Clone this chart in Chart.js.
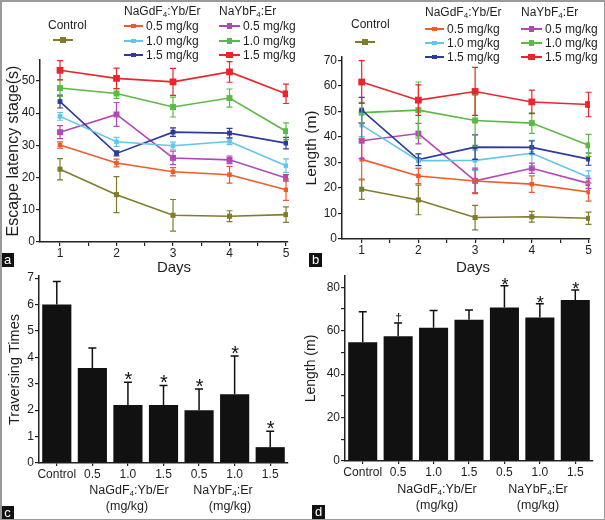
<!DOCTYPE html>
<html lang="en">
<head>
<meta charset="UTF-8">
<title>Escape latency, swimming length and platform crossings</title>
<style>
  body { margin: 0; background: #fff; }
  #fig { position: relative; width: 605px; height: 520px; overflow: hidden; background: #fff;
         font-family: "Liberation Sans", Arial, sans-serif; color: #1e1e1e; }
  #fig canvas { position: absolute; }
  .txt { position: absolute; white-space: nowrap; font-size: 12.5px; line-height: 14px; }
  .head { position: absolute; white-space: nowrap; font-size: 12px; line-height: 14px; }
  .mid { transform: translateX(-50%); }
  .days { position: absolute; font-size: 15px; line-height: 18px; white-space: nowrap; transform: translateX(-50%); }
  .leg { position: absolute; display: flex; align-items: center; font-size: 12px; line-height: 14px; white-space: nowrap; }
  .sw { position: relative; height: 14px; margin-right: 3px; }
  .sw::before { content: ""; position: absolute; left: 0; right: 0; top: 6.2px; height: 1.6px; background: var(--c); }
  .sw::after { content: ""; position: absolute; left: 50%; top: 7px; width: var(--s); height: var(--s);
               margin: calc(var(--s) / -2) 0 0 calc(var(--s) / -2); background: var(--c); }
  .tag { position: absolute; background: #111; color: #fff; font-size: 13px; line-height: 14px; width: 13px; text-align: center; }
  sub { font-size: 8px; vertical-align: -2px; line-height: 0; }
  #frame { position: absolute; left: 0; top: 0; right: 0; bottom: 0; border: 2px solid #9a9a9a;
           border-right-width: 1px; border-bottom-width: 1px; pointer-events: none; }
</style>
</head>
<body>
<div id="fig">
  <canvas id="chartA" width="300" height="262" style="left:0;top:0"></canvas>
  <canvas id="chartB" width="305" height="262" style="left:300px;top:0"></canvas>
  <canvas id="chartC" width="300" height="258" style="left:0;top:262px"></canvas>
  <canvas id="chartD" width="305" height="258" style="left:300px;top:262px"></canvas>
  <div id="frame"></div>
</div>

<script src="https://cdn.jsdelivr.net/npm/chart.js@4.4.2/dist/chart.umd.min.js"></script>
<script>
// ---- data ----
const days = [1, 2, 3, 4, 5];
const seriesNames = ['Control', '0.5 mg/kg', '1.0 mg/kg', '1.5 mg/kg', '0.5 mg/kg', '1.0 mg/kg', '1.5 mg/kg'];
const seriesColors = ['#7f7d2c', '#f15a2a', '#62c6e6', '#2e3b99', '#b447b6', '#5cb946', '#e9262b'];
const pointSizes = [3.6, 3.2, 3.2, 3.4, 4.2, 4.2, 4.8];

// escape latency (s), panel a
const escControl = [22.6, 14.7, 8.3, 8.0, 8.5];
const escGd05 = [30.1, 24.5, 21.8, 20.9, 16.2];
const escGd10 = [39.0, 31.1, 29.9, 31.2, 23.7];
const escGd15 = [43.6, 27.5, 34.1, 33.8, 30.7];
const escYb05 = [34.1, 39.6, 26.1, 25.5, 19.9];
const escYb10 = [47.8, 46.1, 41.9, 44.7, 34.4];
const escYb15 = [53.3, 50.8, 49.7, 52.8, 46.0];
const escControlErr = [3.3, 5.6, 4.9, 1.7, 2.4];
const escGd05Err = [1.0, 1.2, 1.3, 2.6, 3.3];
const escGd10Err = [1.2, 1.4, 1.1, 1.0, 2.1];
const escGd15Err = [2.0, 0.8, 1.3, 1.5, 1.8];
const escYb05Err = [2.0, 3.7, 2.1, 1.2, 1.0];
const escYb10Err = [2.6, 1.5, 3.1, 2.8, 2.6];
const escYb15Err = [3.0, 3.2, 4.2, 3.2, 3.0];

// swimming length (m), panel b
const lenControl = [19.5, 15.3, 8.4, 8.7, 8.1];
const lenGd05 = [31.2, 24.7, 22.7, 21.5, 18.4];
const lenGd10 = [44.6, 30.7, 30.8, 33.6, 24.2];
const lenGd15 = [50.5, 31.1, 36.0, 35.9, 31.3];
const lenYb05 = [38.5, 41.3, 22.8, 27.7, 21.8];
const lenYb10 = [49.5, 50.5, 46.4, 45.4, 36.7];
const lenYb15 = [61.5, 54.4, 57.8, 53.7, 52.7];
const lenControlErr = [4.0, 5.8, 4.8, 2.1, 2.4];
const lenGd05Err = [8.0, 3.0, 4.5, 3.2, 3.6];
const lenGd10Err = [4.5, 2.5, 4.0, 5.0, 2.5];
const lenGd15Err = [5.0, 2.3, 4.8, 2.5, 2.4];
const lenYb05Err = [7.0, 4.0, 5.0, 2.0, 2.0];
const lenYb10Err = [4.0, 11.0, 10.0, 4.0, 4.3];
const lenYb15Err = [8.4, 6.0, 9.4, 4.6, 4.8];

// bar panels c and d
const groupLabels = ['Control', '0.5', '1.0', '1.5', '0.5', '1.0', '1.5'];
const travValues = [6.0, 3.6, 2.2, 2.2, 2.0, 2.6, 0.6];
const travErr = [0.87, 0.75, 0.86, 0.73, 0.8, 1.45, 0.6];
const travMarks = ['', '', '*', '*', '*', '*', '*'];
const distValues = [54.7, 57.4, 61.4, 65.1, 70.7, 66.1, 74.2];
const distErr = [14.0, 6.1, 7.9, 4.4, 10.0, 6.3, 4.6];
const distMarks = ['', '\u2020', '', '', '*', '*', '*'];

const escTicks = [0, 10, 20, 30, 40, 50];
const lenTicks = [0, 10, 20, 30, 40, 50, 60, 70];
const travTicks = [0, 1, 2, 3, 4, 5, 6, 7];
const distTicks = [0, 10, 20, 30, 40, 50, 60, 70, 80];

const axisColor = '#222';
const textColor = '#1e1e1e';

// error bars (and significance marks) drawn through the y scale
const errorBars = {
  id: 'errorBars',
  afterDatasetsDraw(chart, args, opts) {
    const ctx = chart.ctx;
    const yScale = chart.scales.y;
    chart.data.datasets.forEach((ds, i) => {
      if (!ds.errors) return;
      const meta = chart.getDatasetMeta(i);
      ctx.save();
      ctx.strokeStyle = ds.errorColor || ds.borderColor;
      ctx.fillStyle = '#111';
      ctx.lineWidth = opts.width || 1.3;
      meta.data.forEach((el, j) => {
        const v = meta.controller.getParsed(j).y;
        const e = ds.errors[j];
        const top = yScale.getPixelForValue(v + e);
        const bot = yScale.getPixelForValue(ds.upOnly ? v : v - e);
        const w = opts.cap / 2;
        ctx.beginPath();
        ctx.moveTo(el.x, top); ctx.lineTo(el.x, bot);
        ctx.moveTo(el.x - w, top); ctx.lineTo(el.x + w, top);
        if (!ds.upOnly) { ctx.moveTo(el.x - w, bot); ctx.lineTo(el.x + w, bot); }
        ctx.stroke();
        const mark = ds.marks && ds.marks[j];
        if (mark) {
          const [size, dy] = opts.marks[mark];
          ctx.font = size + 'px "Liberation Sans", Arial, sans-serif';
          ctx.textAlign = 'center';
          ctx.textBaseline = 'alphabetic';
          ctx.fillText(mark, el.x + 0.5, top + dy);
        }
      });
      ctx.restore();
    });
  }
};

function lineSets(values, errors) {
  return values.map((vals, k) => ({
    label: seriesNames[k],
    data: days.map((d, i) => ({ x: d, y: vals[i] })),
    errors: errors[k],
    borderColor: seriesColors[k],
    backgroundColor: seriesColors[k],
    borderWidth: 1.6,
    pointStyle: 'rect',
    pointRadius: pointSizes[k],
    pointBorderWidth: 0
  }));
}

function yAxis(cfg) {
  return {
    min: 0, max: cfg.yMax,
    afterBuildTicks: s => { s.ticks = cfg.yTicks.map(v => ({ value: v })); },
    afterFit: s => { s.width = cfg.yW; s.paddingTop = 0; s.paddingBottom = 0; },
    grid: { drawOnChartArea: false, color: axisColor, tickLength: 4, lineWidth: 1.2 },
    border: { color: axisColor, width: 1.5 },
    ticks: { padding: 1, font: { size: 12 }, color: textColor,
              callback: v => (cfg.yLabelEvery && v % cfg.yLabelEvery) ? '' : v },
    title: { display: true, text: cfg.title, color: textColor,
             font: { size: cfg.titleSize }, padding: { top: cfg.titlePad, bottom: 0 } }
  };
}

function lineChart(id, values, errors, cfg) {
  const minor = [];
  days.forEach(d => { minor.push(d); if (d < days[days.length - 1]) minor.push(d + 0.5); });
  return new Chart(document.getElementById(id), {
    type: 'line',
    data: { datasets: lineSets(values, errors) },
    plugins: [errorBars],
    options: {
      responsive: false, animation: false, devicePixelRatio: 1,
      layout: { padding: { top: cfg.top, right: cfg.right, left: 0, bottom: 0 } },
      plugins: { legend: { display: false }, tooltip: { enabled: false }, errorBars: { cap: 6, width: 1.2 } },
      scales: {
        x: {
          type: 'linear', min: cfg.xMin, max: cfg.xMax,
          afterBuildTicks: s => { s.ticks = minor.map(v => ({ value: v })); },
          afterFit: s => { s.height = cfg.xH; s.paddingLeft = 0; s.paddingRight = 0; },
          grid: { drawOnChartArea: false, color: axisColor, tickLength: 4, lineWidth: 1.2 },
          border: { color: axisColor, width: 1.5 },
          ticks: { padding: 0, font: { size: 12 }, color: textColor, maxRotation: 0, autoSkip: false,
                   callback: v => Number.isInteger(v) ? v : '' }
        },
        y: yAxis(cfg)
      }
    }
  });
}

function barChart(id, values, errors, marks, cfg) {
  return new Chart(document.getElementById(id), {
    type: 'bar',
    data: {
      labels: groupLabels,
      datasets: [{
        data: values, errors: errors, marks: marks, upOnly: true,
        backgroundColor: '#111', borderColor: '#111', errorColor: '#111',
        barPercentage: 0.82, categoryPercentage: 1.0
      }]
    },
    plugins: [errorBars],
    options: {
      responsive: false, animation: false, devicePixelRatio: 1,
      layout: { padding: { top: cfg.top, right: cfg.right, left: 0, bottom: 0 } },
      plugins: { legend: { display: false }, tooltip: { enabled: false },
                 errorBars: { cap: 8, width: 1.5, marks: cfg.marks } },
      scales: {
        x: {
          afterFit: s => { s.height = cfg.xH; s.paddingLeft = 0; s.paddingRight = 0; },
          grid: { offset: false, drawOnChartArea: false, color: axisColor, tickLength: 3, lineWidth: 1.2 },
          border: { color: axisColor, width: 1.5 },
          ticks: { padding: 1, font: { size: 12 }, color: textColor, maxRotation: 0, autoSkip: false }
        },
        y: yAxis(cfg)
      }
    }
  });
}

lineChart('chartA',
  [escControl, escGd05, escGd10, escGd15, escYb05, escYb10, escYb15],
  [escControlErr, escGd05Err, escGd10Err, escGd15Err, escYb05Err, escYb10Err, escYb15Err],
  { top: 60, right: 12, xH: 20, yW: 40, xMin: 0.646, xMax: 5.035, yMax: 56.5, yTicks: escTicks,
    title: 'Escape latency stage(s)', titleSize: 16, titlePad: 4 });

lineChart('chartB',
  [lenControl, lenGd05, lenGd10, lenGd15, lenYb05, lenYb10, lenYb15],
  [lenControlErr, lenGd05Err, lenGd10Err, lenGd15Err, lenYb05Err, lenYb10Err, lenYb15Err],
  { top: 57, right: 15, xH: 23, yW: 42, xMin: 0.653, xMax: 5.026, yMax: 71.3, yTicks: lenTicks,
    title: 'Length (m)', titleSize: 15.5, titlePad: 2 });

barChart('chartC', travValues, travErr, travMarks,
  { top: 14, right: 12, xH: 57, yW: 39, yMax: 7.08, yTicks: travTicks,
    title: 'Traversing Times', titleSize: 14.5, titlePad: 6, marks: { '*': [20, 3.5] } });

barChart('chartD', distValues, distErr, distMarks,
  { top: 14, right: 12, xH: 59, yW: 45, yMax: 85.2, yTicks: distTicks, yLabelEvery: 20,
    title: 'Length (m)', titleSize: 14, titlePad: 3, marks: { '*': [18, 5.5], '\u2020': [12, -1] } });

// ---- html legends and labels ----
const fig = document.getElementById('fig');
const frame = document.getElementById('frame');
function addHtml(cls, left, top, html) {
  const el = document.createElement('div');
  el.className = cls;
  el.style.left = left + 'px';
  el.style.top = top + 'px';
  el.innerHTML = html;
  fig.insertBefore(el, frame);
  return el;
}
function swatch(k, w) {
  const s = (pointSizes[k] * Math.SQRT2).toFixed(1);
  return `<span class="sw" style="width:${w}px;--c:${seriesColors[k]};--s:${s}px"></span>`;
}
const gdName = 'NaGdF<sub>4</sub>:Yb/Er';
const ybName = 'NaYbF<sub>4</sub>:Er';

function legend(ox, rows, cols) {
  addHtml('head', ox + cols.control, rows.controlText, seriesNames[0]);
  addHtml('leg', ox + cols.controlSw, rows.controlSw, swatch(0, 20));
  addHtml('head', ox + cols.gd, rows.head, gdName);
  addHtml('head', ox + cols.yb, rows.head, ybName);
  for (let k = 1; k <= 3; k++) {
    addHtml('leg', ox + cols.gd, rows.items[k - 1], swatch(k, 19) + '<span>' + seriesNames[k] + '</span>');
    addHtml('leg', ox + cols.yb, rows.items[k - 1], swatch(k + 3, 21) + '<span>' + seriesNames[k + 3] + '</span>');
  }
}
legend(0, { controlText: 18, controlSw: 33, head: 4, items: [19, 34, 48] },
          { control: 48, controlSw: 53, gd: 124, yb: 219 });
legend(300, { controlText: 17, controlSw: 35, head: 5, items: [22, 36, 50] },
          { control: 51, controlSw: 55, gd: 125, yb: 221 });

addHtml('days', 174, 258, 'Days');
addHtml('days', 473, 258, 'Days');

addHtml('txt mid', 129, 483, gdName);
addHtml('txt mid', 127, 499, '(mg/kg)');
addHtml('txt mid', 223, 483, ybName);
addHtml('txt mid', 230, 499, '(mg/kg)');
addHtml('txt mid', 437, 482, gdName);
addHtml('txt mid', 437, 498, '(mg/kg)');
addHtml('txt mid', 538, 482, ybName);
addHtml('txt mid', 538, 498, '(mg/kg)');

addHtml('tag', 1, 253, 'a');
addHtml('tag', 309, 253, 'b');
addHtml('tag', 1, 506, 'c');
addHtml('tag', 312, 505, 'd');
</script>
</body>
</html>
